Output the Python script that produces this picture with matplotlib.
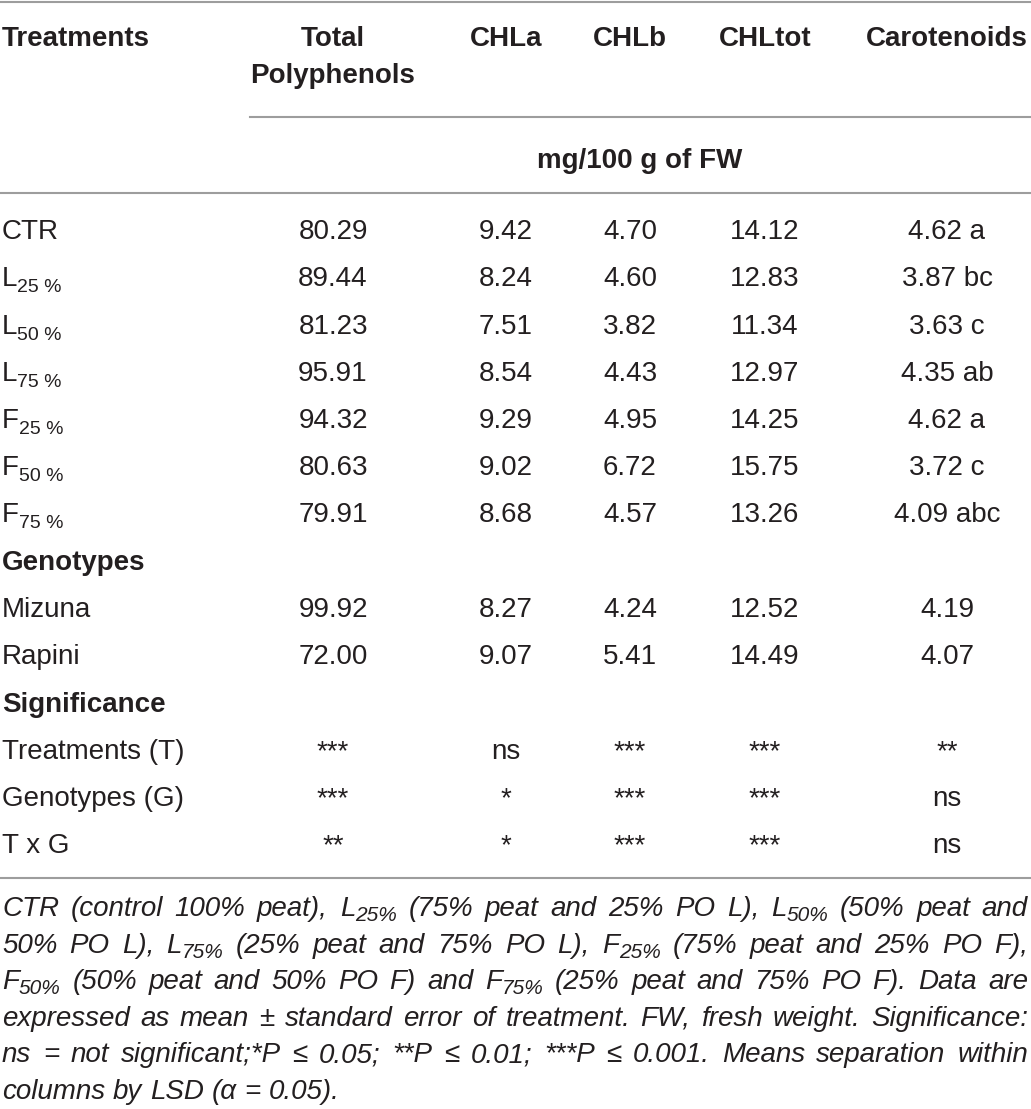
import matplotlib
matplotlib.use("Agg")
import matplotlib.pyplot as plt
from matplotlib.lines import Line2D

# ---------------- data ----------------
header_cols = ["Total\nPolyphenols", "CHLa", "CHLb", "CHLtot", "Carotenoids"]
unit_label = "mg/100 g of FW"

treat_base = ["CTR", "L", "L", "L", "F", "F", "F"]
treat_sub = ["", "25 %", "50 %", "75 %", "25 %", "50 %", "75 %"]
polyphenols = [80.29, 89.44, 81.23, 95.91, 94.32, 80.63, 79.91]
chla = [9.42, 8.24, 7.51, 8.54, 9.29, 9.02, 8.68]
chlb = [4.70, 4.60, 3.82, 4.43, 4.95, 6.72, 4.57]
chltot = [14.12, 12.83, 11.34, 12.97, 14.25, 15.75, 13.26]
carotenoids = [4.62, 3.87, 3.63, 4.35, 4.62, 3.72, 4.09]
carot_letters = ["a", "bc", "c", "ab", "a", "c", "abc"]

genotypes = ["Mizuna", "Rapini"]
geno_poly = [99.92, 72.00]
geno_chla = [8.27, 9.07]
geno_chlb = [4.24, 5.41]
geno_chltot = [12.52, 14.49]
geno_carot = [4.19, 4.07]

sig_sources = ["Treatments (T)", "Genotypes (G)", "T x G"]
sig_poly = ["***", "***", "**"]
sig_chla = ["ns", "*", "*"]
sig_chlb = ["***", "***", "***"]
sig_chltot = ["***", "***", "***"]
sig_carot = ["**", "ns", "ns"]

footnote_lines = [
    "CTR (control 100% peat), L{25%} (75% peat and 25% PO L), L{50%} (50% peat and",
    "50% PO L), L{75%} (25% peat and 75% PO L), F{25%} (75% peat and 25% PO F),",
    "F{50%} (50% peat and 50% PO F) and F{75%} (25% peat and 75% PO F). Data are",
    "expressed as mean \u00b1 standard error of treatment. FW, fresh weight. Significance:",
    "ns = not significant;*P \u2264 0.05; **P \u2264 0.01; ***P \u2264 0.001. Means separation within",
    "columns by LSD (\u03b1 = 0.05).",
]

# ---------------- figure ----------------
W, H = 1031, 1109
DPI = 100
fig = plt.figure(figsize=(W / DPI, H / DPI), dpi=DPI)
fig.patch.set_facecolor("white")
renderer = fig.canvas.get_renderer()

MAIN = ["Liberation Sans", "DejaVu Sans"]
NOTE = ["Liberation Sans", "DejaVu Sans"]

TXT = "#231f20"
RULE = "#9d9d9d"
FS = 20
FS_SUB = 14


def T(x, y, s, **kw):
    kw.setdefault("color", TXT)
    kw.setdefault("family", MAIN)
    kw.setdefault("fontsize", FS)
    kw.setdefault("va", "baseline")
    return fig.text(x / W, 1 - y / H, s, **kw)


def width(t):
    return t.get_window_extent(renderer).width


def hline(x0, x1, y):
    fig.add_artist(Line2D([x0 / W, x1 / W], [1 - y / H, 1 - y / H],
                          transform=fig.transFigure, color=RULE, lw=1.5))


# rules
hline(0, W, 2)
hline(250, W, 117)
hline(0, W, 193)
hline(0, W, 878)

col_x = [333, 506, 630, 765, 947]

# header
T(2, 46, "Treatments", fontweight="bold")
T(col_x[0], 46, "Total", fontweight="bold", ha="center")
T(col_x[0], 83, "Polyphenols", fontweight="bold", ha="center")
for cx, lab in zip(col_x[1:], header_cols[1:]):
    T(cx, 46, lab, fontweight="bold", ha="center")
T(640, 168, unit_label, fontweight="bold", ha="center")

# treatments rows
row_step = 47.25
y0 = 239
for i in range(len(treat_base)):
    yb = y0 + i * row_step
    t = T(2, yb, treat_base[i])
    if treat_sub[i]:
        T(2 + width(t), yb + 6, treat_sub[i], fontsize=FS_SUB)
    vals = [f"{polyphenols[i]:.2f}", f"{chla[i]:.2f}", f"{chlb[i]:.2f}",
            f"{chltot[i]:.2f}", f"{carotenoids[i]:.2f} {carot_letters[i]}"]
    for cx, v in zip(col_x, vals):
        T(cx, yb, v, ha="center")

# genotypes
yg = y0 + 7 * row_step
T(2, yg, "Genotypes", fontweight="bold")
for j in range(len(genotypes)):
    yb = yg + (j + 1) * row_step
    T(2, yb, genotypes[j])
    vals = [f"{geno_poly[j]:.2f}", f"{geno_chla[j]:.2f}", f"{geno_chlb[j]:.2f}",
            f"{geno_chltot[j]:.2f}", f"{geno_carot[j]:.2f}"]
    for cx, v in zip(col_x, vals):
        T(cx, yb, v, ha="center")

# significance
ys = yg + 3 * row_step
T(2, ys, "Significance", fontweight="bold")
for j in range(len(sig_sources)):
    yb = ys + (j + 1) * row_step
    T(2, yb, sig_sources[j])
    vals = [sig_poly[j], sig_chla[j], sig_chlb[j], sig_chltot[j], sig_carot[j]]
    for cx, v in zip(col_x, vals):
        T(cx, yb, v, ha="center")


# ---------------- footnote ----------------
def parse(tok):
    runs, buf, i = [], "", 0
    while i < len(tok):
        c = tok[i]
        if c == "{":
            if buf:
                runs.append((buf, False))
                buf = ""
            j = tok.index("}", i)
            runs.append((tok[i + 1:j], True))
            i = j + 1
            continue
        buf += c
        i += 1
    if buf:
        runs.append((buf, False))
    return runs


SUB_RATIO = 0.75
x_left, x_right = 2, 1028


def measure_line(line, size):
    tmp = []
    total = 0.0
    toks = line.split(" ")
    for tok in toks:
        for s, sub in parse(tok):
            a = T(0, -200, s, family=NOTE, style="italic",
                  fontsize=size * SUB_RATIO if sub else size)
            total += width(a)
            tmp.append(a)
    sp = T(0, -200, "a b", family=NOTE, style="italic", fontsize=size)
    sp2 = T(0, -200, "ab", family=NOTE, style="italic", fontsize=size)
    space_w = width(sp) - width(sp2)
    for a in tmp + [sp, sp2]:
        a.remove()
    return total + space_w * (len(toks) - 1), space_w


s0 = 16.0
max_nat = max(measure_line(l, s0)[0] for l in footnote_lines[:-1])
NFS = min(20.0, s0 * (x_right - x_left - 2) / max_nat)
NFS_SUB = NFS * SUB_RATIO

fy0 = 916
fstep = 36.6
for li, line in enumerate(footnote_lines):
    yb = fy0 + li * fstep
    _, space_w = measure_line(line, NFS)
    words = []
    for tok in line.split(" "):
        arts = []
        for s, sub in parse(tok):
            a = T(0, yb + (5 if sub else 0), s, family=NOTE, style="italic",
                  fontsize=NFS_SUB if sub else NFS)
            arts.append(a)
        words.append(arts)
    wws = [sum(width(a) for a in arts) for arts in words]
    last = li == len(footnote_lines) - 1
    if last or len(words) < 2:
        gap = space_w
    else:
        gap = (x_right - x_left - sum(wws)) / (len(words) - 1)
    x = x_left
    for arts, ww in zip(words, wws):
        xx = x
        for a in arts:
            a.set_x(xx / W)
            xx += width(a)
        x += ww + gap

fig.savefig("out.png", dpi=DPI, facecolor="white")
